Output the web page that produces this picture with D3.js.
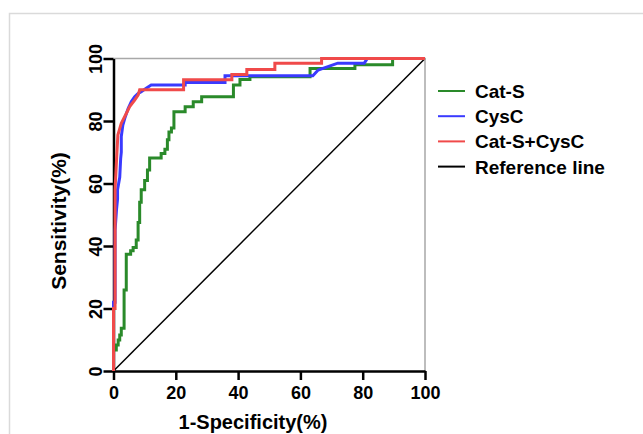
<!DOCTYPE html>
<html>
<head>
<meta charset="utf-8">
<script src="https://cdn.jsdelivr.net/npm/d3@7"></script>
<style>
  body { margin: 0; background: #fff; }
  text { font-family: "Liberation Sans", Arial, sans-serif; font-weight: bold; }
</style>
</head>
<body>
<div id="chart"></div>
<script>
// ROC curves, values (1-specificity %, sensitivity %)
const catS_fpr = [0, 0, 0.9, 0.9, 1.5, 1.5, 2, 2, 2.5, 2.5, 3.4, 3.4, 4.1, 4.1, 5.5, 5.5, 6.3, 6.3, 7.3, 7.3, 7.9, 7.9, 8.4, 8.4, 8.9, 8.9, 10, 10, 10.9, 10.9, 11.6, 11.6, 15.3, 15.3, 16.5, 16.5, 17.3, 17.3, 17.8, 17.8, 18.6, 18.6, 19.4, 19.4, 23, 23, 25.6, 25.6, 28.3, 28.3, 38.5, 38.5, 40.6, 40.6, 43.8, 43.8, 63.1, 63.1, 77.5, 77.5, 89.6, 89.6, 100];
const catS_tpr = [0, 6.7, 6.7, 8.3, 8.3, 9.9, 9.9, 11.5, 11.5, 13.7, 13.7, 25.9, 25.9, 37.4, 37.4, 38.5, 38.5, 39.5, 39.5, 41.9, 41.9, 47.5, 47.5, 54, 54, 58, 58, 61, 61, 64.3, 64.3, 68.2, 68.2, 69.6, 69.6, 71, 71, 74, 74, 76.5, 76.5, 77.8, 77.8, 83, 83, 84.6, 84.6, 86.2, 86.2, 87.8, 87.8, 91.5, 91.5, 93.3, 93.3, 94.2, 94.2, 96.8, 96.8, 98, 98, 100, 100];

const cysC_fpr = [0, 0, 0.5, 0.5, 1, 1.3, 1.3, 2, 2.3, 2.5, 2.5, 3, 3.6, 4.7, 5.7, 6.8, 7.9, 8.9, 10.5, 12.1, 23, 23, 35.8, 35.8, 64, 65.7, 72, 80.5, 81.5, 100];
const cysC_tpr = [0, 22, 22, 45, 52, 55, 58, 62, 68, 70, 75, 78.7, 80.8, 84, 86.2, 87.8, 88.8, 89.4, 90.5, 91.5, 91.5, 92.3, 92.3, 94.5, 94.5, 96.3, 98.5, 98.5, 100, 100];

const combo_fpr = [0, 0, 0.5, 0.5, 1, 1.4, 2.5, 4.1, 5.2, 6.8, 7.9, 8.4, 22.5, 22.5, 38, 38, 42.8, 42.8, 51.8, 51.8, 66.8, 66.8, 100];
const combo_tpr = [0, 20, 20, 58, 68, 75.5, 79.3, 82.4, 84.6, 86.7, 88.3, 90, 90, 93.2, 93.2, 94.9, 94.9, 96.5, 96.5, 98.5, 98.5, 100, 100];

const ref_fpr = [0, 100];
const ref_tpr = [0, 100];

const xTicks = [0, 20, 40, 60, 80, 100];
const yTicks = [0, 20, 40, 60, 80, 100];
const seriesNames = ["Cat-S", "CysC", "Cat-S+CysC", "Reference line"];
const seriesColors = ["#2a8a2a", "#3a3aff", "#f04a4a", "#000000"];

const W = 643, H = 434;

const svg = d3.select("#chart").append("svg")
  .attr("width", W)
  .attr("height", H);

svg.append("rect").attr("width", W).attr("height", H).attr("fill", "#fff");

// light outer frame (top and left edges)
svg.append("path")
  .attr("d", `M9.5,${H}V13.5H${W}`)
  .attr("fill", "none")
  .attr("stroke", "#dadada")
  .attr("stroke-width", 1.5);

const x = d3.scaleLinear().domain([0, 100]).range([113.5, 425]);
const y = d3.scaleLinear().domain([0, 100]).range([371, 58.5]);

// top / right border
svg.append("path")
  .attr("d", `M${x(0)},${y(100)}H${x(100)}V${y(0)}`)
  .attr("fill", "none")
  .attr("stroke", "#a8a8a8")
  .attr("stroke-width", 1.5);

// Axes
const xAxis = svg.append("g")
  .attr("transform", `translate(0,${y(0)})`)
  .call(d3.axisBottom(x).tickValues(xTicks).tickSize(9).tickSizeOuter(0).tickPadding(6));

const yAxis = svg.append("g")
  .attr("transform", `translate(${x(0)},0)`)
  .call(d3.axisLeft(y).tickValues(yTicks).tickSize(10).tickSizeOuter(0));

[xAxis, yAxis].forEach(g => {
  g.select(".domain").attr("stroke", "#000").attr("stroke-width", 2.5);
  g.selectAll(".tick line").attr("stroke", "#000").attr("stroke-width", 2.5);
  g.selectAll("text").attr("fill", "#000").style("font-size", "18px");
});

yAxis.selectAll("text")
  .attr("x", null)
  .attr("dy", null)
  .attr("text-anchor", "middle")
  .attr("transform", "translate(-12,0) rotate(-90)");

// Axis titles
svg.append("text")
  .attr("x", 253)
  .attr("y", 429)
  .attr("text-anchor", "middle")
  .style("font-size", "20px")
  .text("1-Specificity(%)");

svg.append("text")
  .attr("transform", "translate(66,221) rotate(-90)")
  .attr("text-anchor", "middle")
  .style("font-size", "21px")
  .text("Sensitivity(%)");

// Curves
const line = d3.line()
  .x(d => x(d[0]))
  .y(d => y(d[1]));

const zipPts = (xs, ys) => xs.map((v, i) => [v, ys[i]]);

svg.append("path")
  .datum(zipPts(ref_fpr, ref_tpr))
  .attr("d", line)
  .attr("fill", "none")
  .attr("stroke", seriesColors[3])
  .attr("stroke-width", 1.5);

const curves = [
  [catS_fpr, catS_tpr, seriesColors[0]],
  [cysC_fpr, cysC_tpr, seriesColors[1]],
  [combo_fpr, combo_tpr, seriesColors[2]]
];

curves.forEach(([xs, ys, c]) => {
  svg.append("path")
    .datum(zipPts(xs, ys))
    .attr("d", line)
    .attr("fill", "none")
    .attr("stroke", c)
    .attr("stroke-width", 3)
    .attr("stroke-linejoin", "miter");
});

// Legend
const legend = svg.append("g").attr("transform", "translate(438,91)");

seriesNames.forEach((name, i) => {
  const g = legend.append("g").attr("transform", `translate(0,${i * 25.2})`);
  g.append("line")
    .attr("x1", 0).attr("x2", 27)
    .attr("stroke", seriesColors[i])
    .attr("stroke-width", 2);
  g.append("text")
    .attr("x", 37)
    .attr("y", 7)
    .style("font-size", "19px")
    .attr("fill", "#000")
    .text(name);
});
</script>
</body>
</html>
